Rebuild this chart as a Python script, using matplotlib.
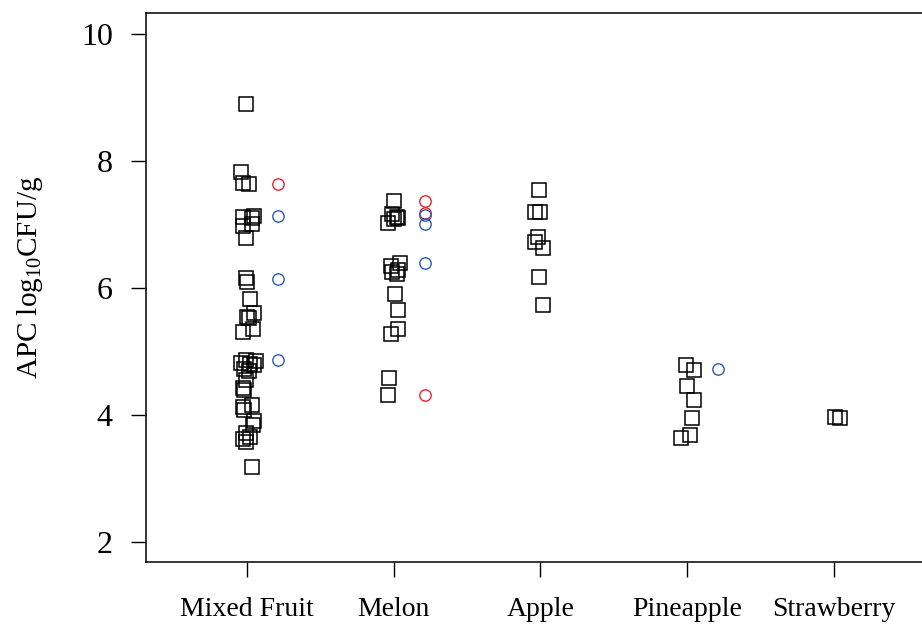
import matplotlib
matplotlib.use("Agg")
import matplotlib.pyplot as plt
import numpy as np

plt.rcParams["font.family"] = ["Liberation Serif", "DejaVu Serif"]
plt.rcParams["mathtext.fontset"] = "custom"
plt.rcParams["mathtext.rm"] = "Liberation Serif"
plt.rcParams["mathtext.it"] = "Liberation Serif:italic"

categories = ["Mixed Fruit", "Melon", "Apple", "Pineapple", "Strawberry"]

# APC values per sample (log10 CFU/g) with the horizontal jitter of each point
mixed_vals = [8.90, 7.82, 7.65, 7.63, 7.12, 7.14, 7.10, 7.00, 6.97, 6.78,
              6.15, 6.10, 5.83, 5.60, 5.55, 5.52, 5.35, 5.30, 4.87, 4.85,
              4.82, 4.80, 4.78, 4.72, 4.70, 4.55, 4.42, 4.40, 4.15, 4.12,
              4.08, 3.90, 3.85, 3.72, 3.66, 3.62, 3.57, 3.18]
mixed_jit = [-0.01, -0.04, -0.03, 0.01, -0.03, 0.05, 0.03, 0.03, -0.03, -0.01,
             -0.01, 0.00, 0.02, 0.05, 0.00, 0.01, 0.04, -0.03, -0.01, 0.06,
             -0.04, 0.02, 0.05, -0.02, 0.01, -0.01, -0.03, -0.02, 0.03, -0.03,
             -0.02, 0.05, 0.04, -0.01, 0.02, -0.03, -0.01, 0.03]

melon_vals = [7.37, 7.17, 7.12, 7.10, 7.08, 7.03, 6.40, 6.34, 6.28, 6.25,
              6.22, 5.90, 5.65, 5.36, 5.27, 4.58, 4.31]
melon_jit = [0.00, -0.01, 0.02, 0.03, 0.00, -0.04, 0.04, -0.02, 0.03, -0.01,
             0.02, 0.01, 0.03, 0.03, -0.02, -0.03, -0.04]

apple_vals = [7.55, 7.20, 7.20, 6.80, 6.72, 6.63, 6.18, 5.73]
apple_jit = [-0.01, -0.04, 0.00, -0.02, -0.04, 0.02, -0.01, 0.02]

pine_vals = [4.79, 4.71, 4.46, 4.23, 3.95, 3.68, 3.63]
pine_jit = [-0.01, 0.05, 0.00, 0.05, 0.03, 0.02, -0.04]

straw_vals = [3.97, 3.96]
straw_jit = [0.01, 0.04]

# flagged samples drawn beside each group
red_cat = [1, 2, 2, 2]
red_vals = [7.64, 7.37, 7.18, 4.31]
blue_cat = [1, 1, 1, 2, 2, 2, 4]
blue_vals = [7.13, 6.14, 4.87, 7.15, 7.01, 6.39, 4.72]
flag_offset = 0.21

groups = [(mixed_vals, mixed_jit), (melon_vals, melon_jit), (apple_vals, apple_jit),
          (pine_vals, pine_jit), (straw_vals, straw_jit)]

fig = plt.figure(figsize=(9.22, 6.28), dpi=100)
ax = fig.add_axes([0.1584, 0.1051, 0.85, 0.8742])

for i, (vals, jit) in enumerate(groups, start=1):
    ax.plot(i + np.array(jit), vals, linestyle="none", marker="s",
            markersize=9.8, markerfacecolor="none", markeredgecolor="black",
            markeredgewidth=1.1)

ax.plot(np.array(red_cat) + flag_offset, red_vals, linestyle="none", marker="o",
        markersize=8.2, markerfacecolor="none", markeredgecolor="#E4262D",
        markeredgewidth=1.0)
ax.plot(np.array(blue_cat) + flag_offset, blue_vals, linestyle="none", marker="o",
        markersize=8.2, markerfacecolor="none", markeredgecolor="#2D5BB5",
        markeredgewidth=1.0)

ax.set_xlim(0.311, 5.654)
ax.set_ylim(1.685, 10.33)
ax.set_xticks(range(1, 6))
ax.set_xticklabels(categories)
ax.set_yticks([2, 4, 6, 8, 10])
ax.tick_params(axis="both", direction="out", length=11, width=1.0)
ax.tick_params(axis="x", pad=14, labelsize=20)
ax.tick_params(axis="y", pad=13, labelsize=23)
for sp in ax.spines.values():
    sp.set_linewidth(1.1)

fig.text(30 / 922, 1 - 277 / 628, r"APC log$_{10}$CFU/g", rotation=90,
         ha="center", va="center", fontsize=21)

fig.savefig("out.png", dpi=100)
